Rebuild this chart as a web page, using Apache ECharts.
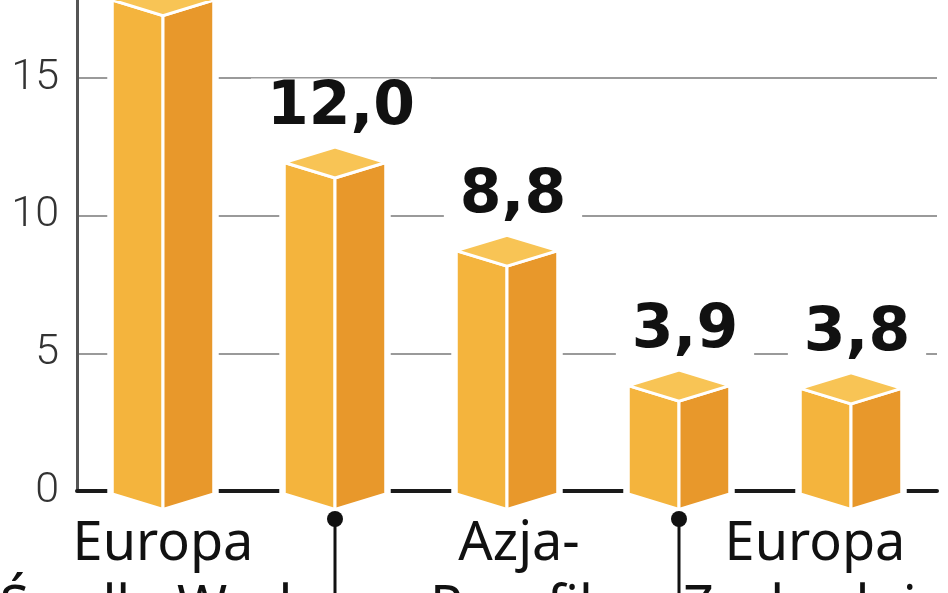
<!DOCTYPE html>
<html>
<head>
<meta charset="utf-8">
<script src="https://cdn.jsdelivr.net/npm/echarts@6/dist/echarts.min.js"></script>
<style>html,body{margin:0;padding:0;background:#fff}#c{width:948px;height:593px}</style>
</head>
<body>
<div id="c"></div>
<script>
// Data
var categories = ['Europa\nŚrodk.-Wsch.', '', 'Azja-\nPacyfik', '', 'Europa\nZachodnia'];
var values = [17.9, 12.0, 8.8, 3.9, 3.8];
var leaderLines = [false, true, false, true, false];
var yTicks = [0, 5, 10, 15];

// label nudges (style, not data)
var labelPadding = [[0, 0, 0, 0], [0, 0, 0, 0], [0, 0, 0, 24], [0, 0, 0, 0], [0, 72, 0, 0]];

var chart = echarts.init(document.getElementById('c'), null, {renderer: 'canvas'});

function fmt(v) { return v.toFixed(1).replace('.', ','); }

function renderBox(params, api) {
  var idx = api.value(0);
  var val = api.value(1);
  var top = api.coord([idx, val]);
  var base = api.coord([idx, 0]);
  var band = api.size([1, 0])[0];
  var cx = top[0];
  var w = band * 0.295;
  var d = band * 0.09;
  var yc = top[1] + 2;
  var yb = base[1] + 3;
  var L = cx - w, R = cx + w;
  var light = '#F4B43D', dark = '#E8982B', topC = '#F8C455';
  var children = [];
  children.push({type: 'polygon', shape: {points: [[L, yc], [cx, yc - d], [R, yc], [R, yb], [cx, yb + d], [L, yb]]},
    style: {fill: '#fff', stroke: '#fff', lineWidth: 10, lineJoin: 'miter'}});
  children.push({type: 'polygon', shape: {points: [[L, yc], [cx, yc + d], [cx, yb + d], [L, yb]]},
    style: {fill: light, stroke: '#fff', lineWidth: 3}});
  children.push({type: 'polygon', shape: {points: [[cx, yc + d], [R, yc], [R, yb], [cx, yb + d]]},
    style: {fill: dark, stroke: '#fff', lineWidth: 3}});
  children.push({type: 'polygon', shape: {points: [[L, yc], [cx, yc - d], [R, yc], [cx, yc + d]]},
    style: {fill: topC, stroke: '#fff', lineWidth: 3}});
  if (leaderLines[idx]) {
    children.push({type: 'line', shape: {x1: cx, y1: base[1] + 28, x2: cx, y2: base[1] + 130},
      style: {stroke: '#111', lineWidth: 3}});
    children.push({type: 'circle', shape: {cx: cx, cy: base[1] + 28, r: 8}, style: {fill: '#111'}});
  }
  var ly = yc - 54;
  if (ly > 20) {
    children.push({type: 'text', x: cx + 6, y: ly,
      style: {text: fmt(val), fill: '#111', fontSize: 60, fontWeight: 'bold',
        fontFamily: 'DejaVu Sans', align: 'center', verticalAlign: 'middle',
        backgroundColor: '#fff', padding: [0, 16]}});
  }
  return {type: 'group', children: children};
}

chart.setOption({
  animation: false,
  backgroundColor: '#fff',
  grid: {left: 77, right: 11, top: -30, bottom: 102, containLabel: false, outerBoundsMode: 'none'},
  xAxis: {
    type: 'category',
    data: categories.map(function (c, i) { return {value: c, textStyle: {padding: labelPadding[i]}}; }),
    axisLine: {show: true, lineStyle: {color: '#1a1a1a', width: 4}},
    axisTick: {show: false},
    axisLabel: {interval: 0, fontSize: 54, lineHeight: 64, fontFamily: 'Noto Sans', color: '#111', margin: 22}
  },
  yAxis: {
    type: 'value',
    min: 0, max: 18.92, interval: 5,
    axisLine: {show: true, lineStyle: {color: '#555', width: 3}},
    axisTick: {show: false},
    axisLabel: {
      fontSize: 43, fontFamily: 'Roboto', fontWeight: 300, color: '#333', margin: 18,
      formatter: function (v) { return yTicks.indexOf(v) >= 0 ? String(v) : ''; }
    },
    splitLine: {show: true, lineStyle: {color: '#9a9a9a', width: 2}}
  },
  series: [{
    type: 'custom',
    renderItem: renderBox,
    clip: false,
    data: values.map(function (v, i) { return [i, v]; }),
    encode: {x: 0, y: 1},
    z: 5
  }]
});
</script>
</body>
</html>
